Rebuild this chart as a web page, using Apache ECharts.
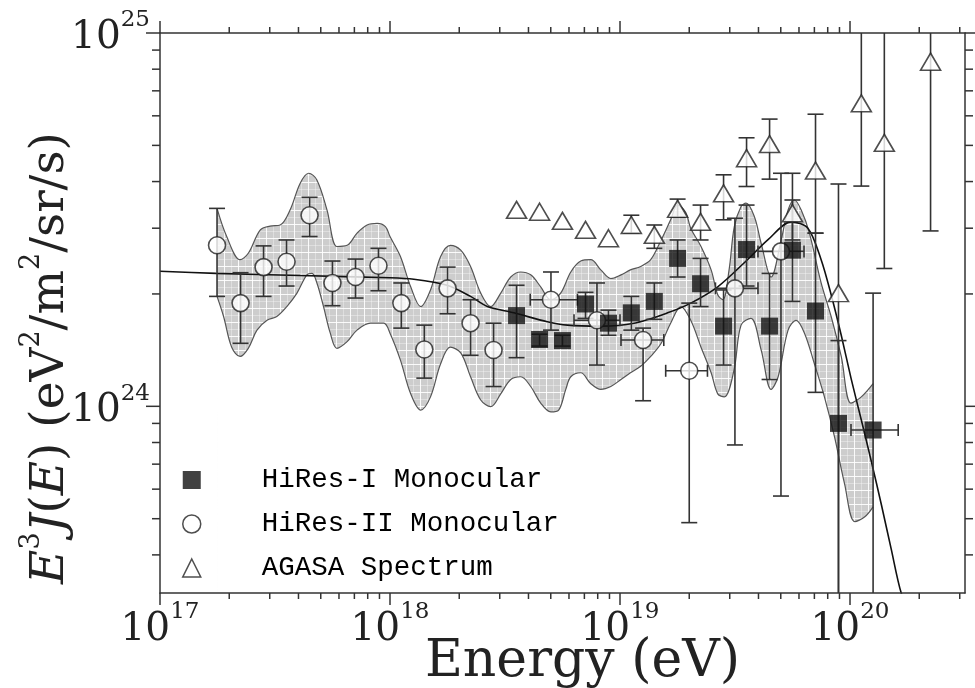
<!DOCTYPE html>
<html><head><meta charset="utf-8">
<script src="https://cdn.jsdelivr.net/npm/echarts@6/dist/echarts.min.js"></script>
<style>html,body{margin:0;padding:0;background:#fff}#c{width:975px;height:688px}</style>
</head><body><div id="c"></div>
<script>
// ---------- axis ranges / ticks ----------
const X_MIN = 1e17, X_MAX = 3.162e20, Y_MIN = 3.162e23, Y_MAX = 1e25;
const xMajorTicks = [1e17, 1e18, 1e19, 1e20];
const xMinorTicks = [2e17,3e17,4e17,5e17,6e17,7e17,8e17,9e17,
  2e18,3e18,4e18,5e18,6e18,7e18,8e18,9e18,
  2e19,3e19,4e19,5e19,6e19,7e19,8e19,9e19, 2e20,3e20];
const yMajorTicks = [1e24, 1e25];
const yMinorTicks = [4e23,5e23,6e23,7e23,8e23,9e23,2e24,3e24,4e24,5e24,6e24,7e24,8e24,9e24];

// ---------- HiRes-I monocular (filled squares) ----------
const hires1E  = [3.55e18,4.47e18,5.62e18,7.08e18,8.91e18,1.12e19,1.41e19,1.78e19,2.24e19,2.82e19,3.55e19,4.47e19,5.62e19,7.08e19,8.91e19,1.26e20];
const hires1F  = [1.75e24,1.51e24,1.50e24,1.88e24,1.67e24,1.78e24,1.91e24,2.49e24,2.13e24,1.64e24,2.63e24,1.64e24,2.62e24,1.80e24,0.90e24,0.864e24];
const hires1Lo = [1.35e24,1.45e24,1.45e24,1.72e24,1.55e24,1.60e24,1.71e24,2.22e24,1.85e24,1.29e24,2.10e24,1.18e24,1.91e24,1.09e24,1e23,1e23];
const hires1Hi = [2.11e24,1.56e24,1.55e24,2.02e24,1.81e24,1.97e24,2.14e24,2.79e24,2.49e24,2.05e24,3.46e24,2.27e24,4.21e24,2.91e24,1.50e24,2.01e24];
const hires1ELo = [null,null,null,null,null,null,null,null,null,null,null,null,null,null,null,1.01e20];
const hires1EHi = [null,null,null,null,null,null,null,null,null,null,null,null,null,null,null,1.62e20];

// ---------- HiRes-II monocular (open circles) ----------
const hires2E  = [1.77e17,2.24e17,2.82e17,3.55e17,4.47e17,5.62e17,7.08e17,8.91e17,1.12e18,1.41e18,1.78e18,2.24e18,2.82e18,5.01e18,7.94e18,1.26e19,2.00e19,3.16e19,5.01e19];
const hires2F  = [2.70e24,1.89e24,2.36e24,2.44e24,3.25e24,2.14e24,2.22e24,2.38e24,1.89e24,1.42e24,2.07e24,1.67e24,1.415e24,1.93e24,1.70e24,1.505e24,1.245e24,2.07e24,2.60e24];
const hires2Lo = [1.97e24,1.475e24,1.97e24,2.10e24,2.85e24,1.86e24,1.95e24,2.04e24,1.62e24,1.19e24,1.77e24,1.37e24,1.13e24,1.60e24,1.29e24,1.035e24,0.488e24,0.788e24,0.575e24];
const hires2Hi = [3.39e24,2.28e24,2.69e24,2.79e24,3.63e24,2.45e24,2.48e24,2.65e24,2.14e24,1.65e24,2.36e24,1.93e24,1.67e24,2.29e24,2.14e24,1.62e24,1.89e24,3.19e24,4.21e24];
const hires2ELo = [null,null,null,null,null,null,null,null,null,null,null,null,null,4.07e18,6.31e18,1.01e19,1.58e19,2.60e19,3.98e19];
const hires2EHi = [null,null,null,null,null,null,null,null,null,null,null,null,null,6.53e18,1.00e19,1.55e19,2.40e19,3.98e19,6.31e19];

// ---------- AGASA spectrum (open triangles) ----------
const agasaE  = [3.55e18,4.47e18,5.62e18,7.08e18,8.91e18,1.12e19,1.41e19,1.78e19,2.24e19,2.82e19,3.55e19,4.47e19,5.62e19,7.08e19,8.91e19,1.12e20,1.41e20,2.24e20];
const agasaF  = [3.36e24,3.32e24,3.14e24,2.97e24,2.82e24,3.06e24,2.88e24,3.38e24,3.12e24,3.72e24,4.62e24,5.04e24,3.29e24,4.28e24,2.01e24,6.48e24,5.08e24,8.38e24];
const agasaLo = [null,null,null,null,null,2.91e24,2.65e24,3.21e24,2.79e24,3.16e24,3.88e24,4.06e24,2.79e24,2.91e24,1e23,3.89e24,2.34e24,2.95e24];
const agasaHi = [null,null,null,null,null,3.25e24,3.06e24,3.59e24,3.46e24,4.17e24,5.24e24,5.88e24,3.57e24,6.06e24,3.94e24,2e25,2e25,2e25];

// ---------- fit curve ----------
const fitE = [1e17,1.75e17,4.07e17,1.00e18,1.27e18,1.77e18,2.24e18,2.65e18,3.46e18,4.83e18,5.91e18,8.25e18,1.15e19,1.61e19,2.03e19,2.66e19,3.46e19,4.39e19,5.54e19,6.56e19,7.49e19,8.28e19,9.16e19,1.01e20,1.12e20,1.24e20,1.37e20,1.51e20,1.67e20,1.85e20];
const fitF = [2.30e24,2.27e24,2.24e24,2.21e24,2.19e24,2.11e24,1.97e24,1.85e24,1.78e24,1.685e24,1.65e24,1.64e24,1.67e24,1.78e24,1.89e24,2.09e24,2.42e24,2.79e24,3.12e24,3.00e24,2.47e24,1.99e24,1.55e24,1.19e24,0.919e24,0.709e24,0.544e24,0.415e24,0.316e24,0.276e24];

// ---------- shaded uncertainty band ----------
const bandUpE = [1.77e17,1.95e17,2.23e17,2.42e17,2.73e17,3.01e17,3.33e17,3.68e17,4.07e17,4.43e17,4.81e17,5.32e17,5.88e17,6.51e17,7.19e17,7.95e17,8.79e17,9.55e17,1.00e18,1.11e18,1.23e18,1.36e18,1.50e18,1.66e18,1.83e18,2.03e18,2.24e18,2.48e18,2.74e18,3.03e18,3.35e18,3.70e18,4.09e18,4.52e18,5.00e18,5.52e18,6.11e18,6.75e18,7.46e18,8.25e18,9.12e18,1.01e19,1.11e19,1.23e19,1.36e19,1.51e19,1.66e19,1.78e19,1.93e19,2.03e19,2.25e19,2.49e19,2.66e19,2.80e19,2.98e19,3.14e19,3.36e19,3.53e19,3.84e19,4.11e19,4.54e19,5.02e19,5.38e19,5.73e19,6.13e19,6.66e19,7.49e19,8.28e19,9.16e19,1.01e20,1.12e20,1.26e20];
const bandUpF = [3.39e24,2.85e24,2.47e24,2.57e24,2.97e24,3.04e24,3.06e24,3.36e24,3.96e24,4.21e24,4.04e24,3.36e24,2.68e24,2.70e24,2.91e24,3.06e24,3.09e24,3.03e24,2.85e24,2.52e24,2.09e24,1.85e24,2.05e24,2.52e24,2.70e24,2.62e24,2.37e24,2.01e24,1.85e24,2.01e24,2.22e24,2.29e24,2.25e24,2.09e24,1.93e24,2.01e24,2.29e24,2.45e24,2.47e24,2.32e24,2.20e24,2.25e24,2.32e24,2.37e24,2.47e24,2.79e24,3.16e24,3.46e24,3.31e24,3.00e24,2.68e24,2.32e24,1.99e24,1.93e24,2.32e24,3.03e24,3.43e24,3.50e24,3.22e24,2.73e24,2.22e24,2.79e24,3.36e24,3.57e24,3.36e24,2.91e24,2.14e24,1.74e24,1.36e24,1.02e24,1.06e24,1.15e24];
const bandLoE = [1.77e17,1.89e17,2.05e17,2.23e17,2.42e17,2.64e17,2.92e17,3.22e17,3.56e17,3.94e17,4.35e17,4.58e17,4.81e17,5.14e17,5.50e17,5.88e17,6.51e17,7.19e17,8.22e17,9.39e17,1.00e18,1.11e18,1.23e18,1.36e18,1.50e18,1.66e18,1.83e18,2.03e18,2.24e18,2.48e18,2.74e18,3.03e18,3.35e18,3.70e18,4.09e18,4.52e18,5.00e18,5.41e18,5.81e18,6.11e18,6.75e18,7.46e18,8.25e18,9.12e18,1.01e19,1.11e19,1.23e19,1.36e19,1.51e19,1.66e19,1.84e19,2.03e19,2.25e19,2.49e19,2.66e19,2.84e19,3.13e19,3.36e19,3.71e19,4.11e19,4.54e19,4.87e19,5.38e19,5.83e19,6.34e19,7.00e19,7.74e19,8.56e19,9.46e19,1.05e20,1.16e20,1.26e20];
const bandLoF = [1.97e24,1.74e24,1.44e24,1.36e24,1.43e24,1.60e24,1.70e24,1.74e24,1.85e24,2.01e24,2.25e24,2.27e24,2.14e24,1.85e24,1.57e24,1.43e24,1.49e24,1.60e24,1.67e24,1.67e24,1.57e24,1.33e24,1.08e24,0.977e24,1.06e24,1.30e24,1.44e24,1.39e24,1.20e24,1.04e24,0.998e24,1.08e24,1.18e24,1.20e24,1.13e24,1.02e24,0.966e24,0.977e24,1.11e24,1.20e24,1.23e24,1.15e24,1.11e24,1.13e24,1.18e24,1.23e24,1.28e24,1.36e24,1.475e24,1.67e24,1.85e24,1.70e24,1.44e24,1.23e24,1.08e24,1.06e24,1.25e24,1.65e24,1.72e24,1.415e24,1.11e24,1.20e24,1.60e24,1.70e24,1.57e24,1.30e24,1.06e24,0.829e24,0.622e24,0.491e24,0.506e24,0.538e24];

// ---------- labels ----------
const legendNames = ['HiRes-I Monocular', 'HiRes-II Monocular', 'AGASA Spectrum'];
const xAxisTitle = 'Energy (eV)';

// ================= drawing =================
const SERIF = "'DejaVu Serif', 'Liberation Serif', serif";
const INK = '#222';

function pow10Label(v) {
  const e = Math.log10(v);
  if (Math.abs(e - Math.round(e)) > 1e-6) return '';
  return '{b|10}{s|' + Math.round(e) + '}';
}
const tickRich = {
  b: {fontFamily: SERIF, fontSize: 39, color: INK, lineHeight: 48, verticalAlign: 'bottom'},
  s: {fontFamily: SERIF, fontSize: 23, color: INK, lineHeight: 23, verticalAlign: 'top'}
};

function makePattern() {
  const c = document.createElement('canvas'); c.width = 14; c.height = 14;
  const g = c.getContext('2d');
  g.fillStyle = '#cdcdcd'; g.fillRect(0, 0, 14, 14);
  g.fillStyle = 'rgba(255,255,255,0.9)'; g.fillRect(0, 0, 14, 1); g.fillRect(0, 0, 1, 14);
  g.fillStyle = 'rgba(255,255,255,0.35)'; g.fillRect(0, 7, 14, 1); g.fillRect(7, 0, 1, 14);
  return c;
}

function errBarSeries(E, F, lo, hi, eLo, eHi) {
  const data = E.map((e, i) => [e, F[i],
    lo[i] == null ? F[i] : lo[i], hi[i] == null ? F[i] : hi[i],
    (eLo && eLo[i] != null) ? eLo[i] : e, (eHi && eHi[i] != null) ? eHi[i] : e]);
  return {
    type: 'custom', z: 5, silent: true, data: data,
    encode: {x: 0, y: 1},
    renderItem: function (params, api) {
      const cs = params.coordSys;
      const top = cs.y, bot = cs.y + cs.height, left = cs.x, right = cs.x + cs.width;
      const x = api.value(0), y = api.value(1);
      const c = api.coord([x, y]);
      const pl = api.coord([x, api.value(2)]);
      const ph = api.coord([x, api.value(3)]);
      const el = api.coord([api.value(4), y]);
      const eh = api.coord([api.value(5), y]);
      const st = {stroke: '#333', lineWidth: 1.6};
      const ch = [];
      const cap = 8;
      const yTop = Math.max(top, ph[1]), yBot = Math.min(bot, pl[1]);
      if (yBot - yTop > 1) {
        ch.push({type: 'line', shape: {x1: c[0], y1: yTop, x2: c[0], y2: yBot}, style: st});
        if (ph[1] >= top && ph[1] < c[1] - 1) ch.push({type: 'line', shape: {x1: c[0] - cap, y1: ph[1], x2: c[0] + cap, y2: ph[1]}, style: st});
        if (pl[1] <= bot && pl[1] > c[1] + 1) ch.push({type: 'line', shape: {x1: c[0] - cap, y1: pl[1], x2: c[0] + cap, y2: pl[1]}, style: st});
      }
      if (eh[0] - el[0] > 1) {
        const xl = Math.max(left, el[0]), xr = Math.min(right, eh[0]);
        ch.push({type: 'line', shape: {x1: xl, y1: c[1], x2: xr, y2: c[1]}, style: st});
        ch.push({type: 'line', shape: {x1: el[0], y1: c[1] - 6, x2: el[0], y2: c[1] + 6}, style: st});
        ch.push({type: 'line', shape: {x1: eh[0], y1: c[1] - 6, x2: eh[0], y2: c[1] + 6}, style: st});
      }
      return {type: 'group', children: ch};
    }
  };
}

const tickStyle = {stroke: '#333', lineWidth: 1.5};
const xTickSeries = {
  type: 'custom', z: 12, silent: true,
  data: xMajorTicks.map(v => [v, 1e24, 1]).concat(xMinorTicks.map(v => [v, 1e24, 0])),
  encode: {x: 0, y: 1},
  renderItem: function (params, api) {
    const cs = params.coordSys;
    const x = api.coord([api.value(0), api.value(1)])[0];
    const len = api.value(2) ? 12 : 6;
    return {type: 'group', children: [
      {type: 'line', shape: {x1: x, y1: cs.y + cs.height, x2: x, y2: cs.y + cs.height + len}, style: tickStyle},
      {type: 'line', shape: {x1: x, y1: cs.y, x2: x, y2: cs.y - len}, style: tickStyle}
    ]};
  }
};
const yTickSeries = {
  type: 'custom', z: 12, silent: true,
  data: yMajorTicks.map(v => [1e18, v, 1]).concat(yMinorTicks.map(v => [1e18, v, 0])),
  encode: {x: 0, y: 1},
  renderItem: function (params, api) {
    const cs = params.coordSys;
    const y = api.coord([api.value(0), api.value(1)])[1];
    const len = api.value(2) ? 14 : 8;
    return {type: 'group', children: [
      {type: 'line', shape: {x1: cs.x, y1: y, x2: cs.x - len, y2: y}, style: tickStyle},
      {type: 'line', shape: {x1: cs.x + cs.width, y1: y, x2: cs.x + cs.width + len, y2: y}, style: tickStyle}
    ]};
  }
};

const frameLine = {show: true, lineStyle: {color: '#333', width: 1.5}};
const chart = echarts.init(document.getElementById('c'), null, {renderer: 'canvas'});
chart.setOption({
  animation: false,
  backgroundColor: '#fff',
  grid: {left: 160, right: 10, top: 33, bottom: 95, containLabel: false, outerBoundsMode: 'none'},
  legend: {
    orient: 'vertical', left: 177, top: 460, itemWidth: 18, itemHeight: 18, itemGap: 14,
    selectedMode: false,
    textStyle: {fontFamily: "'Liberation Mono', monospace", fontSize: 27.5, color: '#000', lineHeight: 30, padding: [0, 0, 0, 56]},
    data: [
      {name: legendNames[0], icon: 'rect', itemStyle: {color: '#111', borderWidth: 0}},
      {name: legendNames[1], icon: 'circle', itemStyle: {color: '#fff', borderColor: '#222', borderWidth: 1.5}},
      {name: legendNames[2], icon: 'triangle', itemStyle: {color: '#fff', borderColor: '#222', borderWidth: 1.5}}
    ]
  },
  xAxis: [{
    type: 'log', logBase: 10, min: X_MIN, max: X_MAX, position: 'bottom', z: 10,
    axisLine: frameLine, axisTick: {show: false}, splitLine: {show: false},
    axisLabel: {formatter: pow10Label, rich: tickRich, margin: 8},
    name: xAxisTitle, nameLocation: 'middle', nameGap: 43, nameMoveOverlap: false,
    nameTextStyle: {fontFamily: SERIF, fontSize: 52, color: INK, padding: [0, 0, 0, 40]}
  }, {
    type: 'log', logBase: 10, min: X_MIN, max: X_MAX, position: 'top', z: 10,
    axisLine: frameLine, axisTick: {show: false}, axisLabel: {show: false}, splitLine: {show: false}
  }],
  yAxis: [{
    type: 'log', logBase: 10, min: Y_MIN, max: Y_MAX, position: 'left', z: 10,
    axisLine: frameLine, axisTick: {show: false}, splitLine: {show: false},
    axisLabel: {formatter: pow10Label, rich: tickRich, margin: 10},
    name: '{i|E}{s|3}{i|J}{n|(}{i|E}{n|) (eV}{s|2}{n|/m}{s|2}{n|/sr/s)}',
    nameLocation: 'middle', nameGap: 86, nameRotate: 90, nameMoveOverlap: false,
    nameTextStyle: {padding: [0, 90, 0, 0], rich: {
      i: {fontFamily: SERIF, fontStyle: 'italic', fontSize: 47, color: INK, lineHeight: 56, verticalAlign: 'bottom'},
      n: {fontFamily: SERIF, fontSize: 47, color: INK, lineHeight: 56, verticalAlign: 'bottom'},
      s: {fontFamily: SERIF, fontSize: 27, color: INK, lineHeight: 27, verticalAlign: 'top'}
    }}
  }, {
    type: 'log', logBase: 10, min: Y_MIN, max: Y_MAX, position: 'right', z: 10,
    axisLine: frameLine, axisTick: {show: false}, axisLabel: {show: false}, splitLine: {show: false}
  }],
  series: [
    {type: 'line', silent: true, z: 1, smooth: 0.35, symbol: 'none', clip: true,
      data: bandUpE.map((e, i) => [e, bandUpF[i]]),
      lineStyle: {color: '#555', width: 1.2},
      areaStyle: {color: {image: makePattern(), repeat: 'repeat'}, opacity: 1, origin: 'start'}},
    {type: 'line', silent: true, z: 2, smooth: 0.35, symbol: 'none', clip: true,
      data: bandLoE.map((e, i) => [e, bandLoF[i]]),
      lineStyle: {color: '#555', width: 1.2},
      areaStyle: {color: '#ffffff', opacity: 1, origin: 'start'}},
    {type: 'line', silent: true, z: 4, smooth: 0.3, symbol: 'none', clip: true,
      data: fitE.map((e, i) => [e, fitF[i]]),
      lineStyle: {color: '#111', width: 1.6}},
    errBarSeries(hires1E, hires1F, hires1Lo, hires1Hi, hires1ELo, hires1EHi),
    errBarSeries(hires2E, hires2F, hires2Lo, hires2Hi, hires2ELo, hires2EHi),
    errBarSeries(agasaE, agasaF, agasaLo, agasaHi, null, null),
    {type: 'scatter', name: legendNames[2], z: 6, silent: true, symbol: 'triangle', symbolSize: [20, 17],
      data: agasaE.map((e, i) => [e, agasaF[i]]),
      itemStyle: {color: '#fff', borderColor: '#222', borderWidth: 1.6}},
    {type: 'scatter', name: legendNames[1], z: 7, silent: true, symbol: 'circle', symbolSize: 17,
      data: hires2E.map((e, i) => [e, hires2F[i]]),
      itemStyle: {color: '#fff', borderColor: '#222', borderWidth: 1.6}},
    {type: 'scatter', name: legendNames[0], z: 8, silent: true, symbol: 'rect', symbolSize: 17,
      data: hires1E.map((e, i) => [e, hires1F[i]]),
      itemStyle: {color: '#111'}},
    xTickSeries, yTickSeries
  ]
});
</script></body></html>
